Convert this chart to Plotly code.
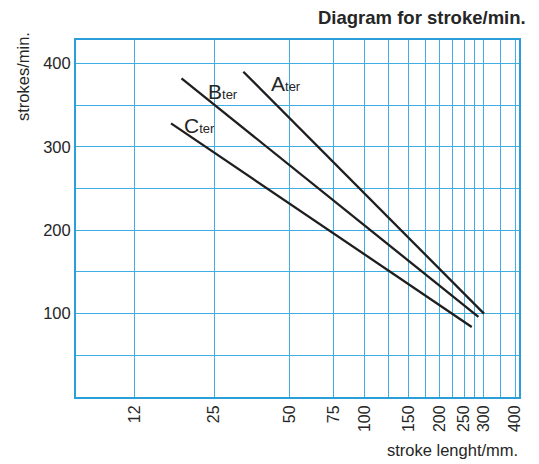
import plotly.graph_objects as go

# Data (stroke length in mm, strokes/min)
series_names = ["A", "B", "C"]
stroke_len_A = [32.7, 300]
strokes_A = [390, 100]
stroke_len_B = [18.5, 285]
strokes_B = [382, 96]
stroke_len_C = [16.8, 268]
strokes_C = [328, 84]

x_grid_vals = [12, 25, 50, 75, 100, 125, 150, 175, 200, 225, 250, 275, 300, 350, 400]
x_labeled = [12, 25, 50, 75, 100, 150, 200, 250, 300, 400]
y_grid_vals = [0, 50, 100, 150, 200, 250, 300, 350, 400]
y_labeled = [100, 200, 300, 400]

GRID = "#41aee3"
BORDER = "#2a9ed8"
LINE = "#1e1e1e"
TXT = "#262626"
FONT = "Liberation Sans, Arial, sans-serif"

fig = go.Figure()
for xs, ys in [(stroke_len_A, strokes_A), (stroke_len_B, strokes_B), (stroke_len_C, strokes_C)]:
    fig.add_trace(go.Scatter(x=xs, y=ys, mode="lines",
                             line=dict(color=LINE, width=2.3), showlegend=False,
                             hoverinfo="skip"))

OFF = 8  # page body margin
W, H = 539 - OFF, 464 - OFF
L_, R_, T_, B_ = 76 - OFF, 20, 40 - OFF, 67
pw = W - L_ - R_
ph = H - T_ - B_

def px(xp):
    return (xp - OFF - L_) / pw

def py(yp):
    return (H - B_ - (yp - OFF)) / ph

fig.update_xaxes(
    type="log",
    range=[0.8452, 0.8452 + pw / 250.0],
    tickmode="array",
    tickvals=x_grid_vals,
    ticktext=[str(v) if v in x_labeled else "" for v in x_grid_vals],
    tickangle=-90,
    tickfont=dict(family=FONT, size=16, color=TXT),
    showgrid=True, gridcolor=GRID, gridwidth=1.2,
    showline=True, linecolor=BORDER, linewidth=2, mirror=True,
    ticks="", zeroline=False,
)
fig.update_yaxes(
    range=[0, 428],
    tickmode="array",
    tickvals=y_grid_vals,
    ticktext=[str(v) if v in y_labeled else "" for v in y_grid_vals],
    tickfont=dict(family=FONT, size=16.5, color=TXT),
    showgrid=True, gridcolor=GRID, gridwidth=1.2,
    showline=True, linecolor=BORDER, linewidth=2, mirror=True,
    ticks="", zeroline=False,
)

annotations = [
    dict(text="<b>Diagram for stroke/min.</b>", x=px(528), y=py(17), xanchor="right",
         yanchor="middle", font=dict(family=FONT, size=18.5, color=TXT)),
    dict(text="stroke lenght/mm.", x=px(520), y=py(450), xanchor="right",
         yanchor="middle", font=dict(family=FONT, size=16.5, color=TXT)),
    dict(text="strokes/min.", x=px(23), y=py(77), xanchor="center",
         yanchor="middle", textangle=-90, font=dict(family=FONT, size=16.5, color=TXT)),
]
for name, (lx, ly) in zip(series_names, [(269, 83), (206, 91), (182, 125)]):
    annotations.append(dict(
        text=name + "<span style='font-size:13px'>ter</span>",
        x=px(lx), y=py(ly), xanchor="left", yanchor="middle",
        font=dict(family=FONT, size=21, color=TXT)))
for a in annotations:
    a.update(xref="paper", yref="paper", showarrow=False)

fig.update_layout(
    width=W, height=H,
    margin=dict(l=L_, r=R_, t=T_, b=B_),
    paper_bgcolor="white", plot_bgcolor="white",
    annotations=annotations,
    font=dict(family=FONT, color=TXT),
)

fig.write_html("out.html")
